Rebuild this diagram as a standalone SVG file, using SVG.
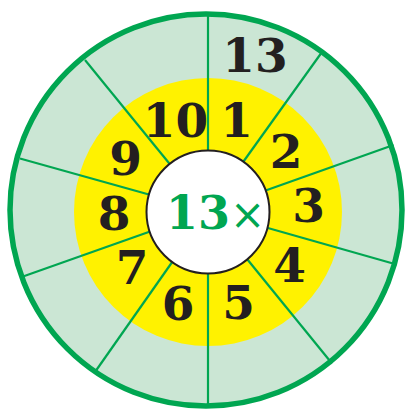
<svg xmlns="http://www.w3.org/2000/svg" width="405" height="409" viewBox="0 0 405 409">
<style>
.num{font-family:"DejaVu Serif","Liberation Serif",serif;font-weight:bold;font-size:47px;fill:#231f20;text-anchor:middle}
.ctr{font-family:"DejaVu Serif","Liberation Serif",serif;font-weight:bold;font-size:46px;fill:#00a651}
.times{font-family:"DejaVu Sans",sans-serif;font-weight:normal;font-size:42px}
.spoke{stroke:#00a651;stroke-width:2.2;fill:none}
</style>
<rect width="405" height="409" fill="#ffffff"/>
<g id="outer-ring"><circle cx="206" cy="210" r="196" fill="#cbe6d4"/></g>
<g id="yellow-ring"><circle cx="208" cy="212" r="134" fill="#fff200"/></g>
<g id="connectors">
<line class="spoke" x1="208" y1="211" x2="208" y2="14"/>
<line class="spoke" x1="208" y1="211" x2="322" y2="52"/>
<line class="spoke" x1="208" y1="211" x2="393.5" y2="145"/>
<line class="spoke" x1="208" y1="211" x2="396.5" y2="264.5"/>
<line class="spoke" x1="208" y1="211" x2="332" y2="363.5"/>
<line class="spoke" x1="208" y1="211" x2="208" y2="406"/>
<line class="spoke" x1="208" y1="211" x2="95" y2="372"/>
<line class="spoke" x1="208" y1="211" x2="23" y2="276.5"/>
<line class="spoke" x1="208" y1="211" x2="20" y2="158.5"/>
<line class="spoke" x1="208" y1="211" x2="85" y2="60"/>
</g>
<g id="outer-border"><circle cx="206" cy="210" r="196" fill="none" stroke="#00a651" stroke-width="5.5"/></g>
<g id="center"><circle cx="208" cy="212" r="61.5" fill="#ffffff" stroke="#231f20" stroke-width="2"/>
<text class="ctr" x="166" y="229">13<tspan class="times">×</tspan></text>
</g>
<g id="n13"><text class="num" x="255" y="72">13</text></g>
<g id="n1"><text class="num" x="236.5" y="137">1</text></g>
<g id="n2"><text class="num" x="286" y="168">2</text></g>
<g id="n3"><text class="num" x="308.5" y="222">3</text></g>
<g id="n4"><text class="num" x="289.5" y="282">4</text></g>
<g id="n5"><text class="num" x="238.5" y="319">5</text></g>
<g id="n6"><text class="num" x="178" y="320">6</text></g>
<g id="n7"><text class="num" x="132" y="284">7</text></g>
<g id="n8"><text class="num" x="114" y="230">8</text></g>
<g id="n9"><text class="num" x="125.5" y="175">9</text></g>
<g id="n10"><text class="num" x="175.5" y="137">10</text></g>
</svg>
